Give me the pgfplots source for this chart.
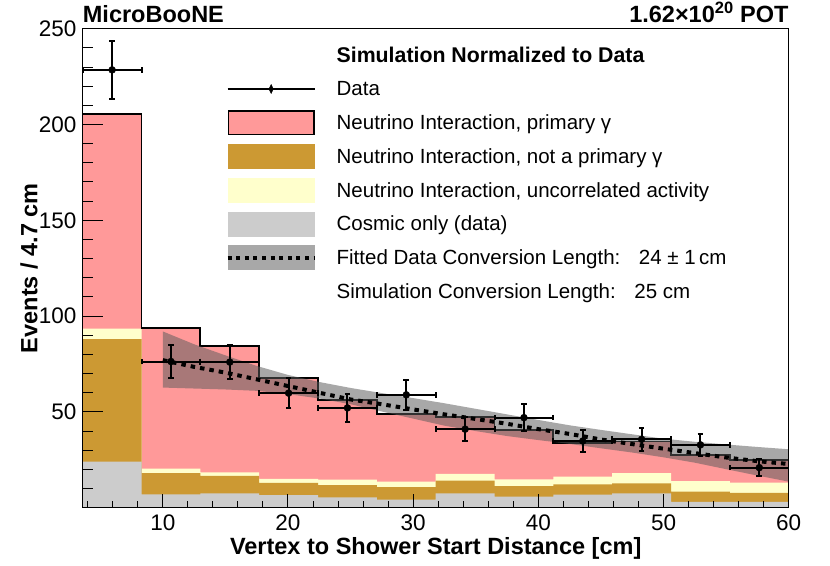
\documentclass[border=0pt]{standalone}
\usepackage{pgfplots}
\pgfplotsset{compat=1.18}
\usepackage{pgfplotstable}
\usepackage{fontspec}
\setmainfont{Liberation Sans}
\definecolor{cpink}{HTML}{FF9999}
\definecolor{cbrown}{HTML}{CC9933}
\definecolor{cyel}{HTML}{FFFFCC}
\definecolor{cgray}{HTML}{CCCCCC}
\definecolor{cband}{HTML}{5B5B5B}

% bin left edges; cumulative stack tops
\pgfplotstableread{
x     cos   br    ye    tot
3.6   24.0  88.0  93.4  205.5
8.3   7.0   18.0  20.4  93.7
13.0  7.5   16.6  18.5  84.5
17.7  6.5   12.9  15.0  67.6
22.4  5.4   11.8  14.6  56.3
27.1  4.2   10.8  13.6  49.0
31.8  7.5   14.1  17.6  47.2
36.5  5.8   11.3  14.8  40.5
41.2  6.8   12.2  16.2  33.7
45.9  7.5   12.7  18.0  34.5
50.6  3.1   8.4   13.9  27.5
55.3  3.1   7.8   13.1  24.9
60.0  3.1   7.8   13.1  24.9
}\hist

\pgfplotstableread{
x      y      ex    ey
5.95   228.5  2.35  15.1
10.65  76.3   2.35  8.7
15.35  76.0   2.35  8.7
20.05  59.8   2.35  7.7
24.75  52.1   2.35  7.2
29.45  58.9   2.35  7.7
34.15  41.0   2.35  6.4
38.85  47.0   2.35  6.9
43.55  34.8   2.35  5.9
48.25  35.7   2.35  6.0
52.95  32.8   2.35  5.7
57.65  20.9   2.35  4.6
}\data

\pgfplotstableread{
x     fit
10.0  77.0
12.5  73.5
15.0  70.5
17.5  67.0
20.0  63.5
22.5  60.0
25.0  56.5
27.5  54.0
30.0  51.3
32.5  48.7
35.0  46.3
37.5  43.8
40.0  41.0
42.5  38.5
45.0  35.6
47.5  33.2
50.0  30.8
52.5  28.5
55.0  26.2
57.5  24.3
60.0  22.8
}\fit

% fit uncertainty band: upper edge left to right, lower edge right to left
\pgfplotstableread{
x     y
10.0  92.0
12.5  85.3
15.0  79.5
17.5  74.0
20.0  69.3
22.5  65.6
25.0  62.5
27.5  59.8
30.0  57.2
32.5  54.5
35.0  51.6
37.5  48.7
40.0  45.8
42.5  43.0
45.0  40.6
47.5  38.3
50.0  36.0
52.5  34.4
55.0  33.0
57.5  31.7
60.0  30.5
60.0  13.6
57.5  16.8
55.0  20.1
52.5  23.5
50.0  26.3
47.5  28.8
45.0  31.0
42.5  33.3
40.0  35.3
37.5  37.4
35.0  40.0
32.5  42.8
30.0  46.5
27.5  50.2
25.0  54.0
22.5  57.0
20.0  59.3
17.5  61.0
15.0  61.7
12.5  62.2
10.0  62.7
}\band

\begin{document}
\begin{tikzpicture}
\begin{axis}[
  name=ax,
  at={(82.7pt,57.3pt)}, anchor=south west,
  scale only axis, width=706pt, height=479pt,
  xmin=3.6, xmax=60, ymin=0, ymax=250,
  xtick={10,20,...,60}, ytick={50,100,...,250},
  minor xtick={4,6,...,58}, minor ytick={10,20,...,240},
  tick pos=left, tick align=inside,
  axis on top,
  axis line style={line width=1pt},
  every tick/.style={black, line width=1pt},
  xtick style={/pgfplots/major tick length=14pt, /pgfplots/minor tick length=7pt},
  ytick style={/pgfplots/major tick length=20pt, /pgfplots/minor tick length=10pt},
  /pgf/number format/assume math mode=true,
  xticklabel style={font=\fontsize{22.5}{26}\selectfont, inner sep=0pt, yshift=-7pt},
  yticklabel style={font=\fontsize{22.5}{26}\selectfont, inner sep=0pt, xshift=-6pt},
  legend style={at={(rel axis cs:0.2025,0.9708)}, anchor=north west, draw=none, fill=none,
    inner sep=0pt, outer sep=0pt, row sep=8.8pt, column sep=20pt,
    font=\fontsize{20.5}{24}\selectfont, nodes={inner sep=0pt}, cells={anchor=west}},
]
\addlegendimage{legend image code/.code={\path[draw=none,fill=none] (0pt,-12.5pt) rectangle (87pt,12.5pt);}}
\addlegendentry{\fontsize{21.3}{24}\selectfont\bfseries Simulation Normalized to Data}
\addlegendimage{legend image code/.code={\path[draw=none,fill=none] (0pt,-12.5pt) rectangle (87pt,12.5pt);
  \draw[black,line width=1.6pt] (0pt,0pt)--(87pt,0pt);
  \fill[black] (43.5pt,-4.5pt)--(45.7pt,0pt)--(43.5pt,4.5pt)--(41.3pt,0pt)--cycle;}}
\addlegendentry{Data}
\addlegendimage{legend image code/.code={\path[draw=none,fill=none] (0pt,-12.5pt) rectangle (87pt,12.5pt);
  \draw[black,line width=1.6pt,fill=cpink] (0.8pt,-11.7pt) rectangle (86.2pt,11.7pt);}}
\addlegendentry{Neutrino Interaction, primary γ}
\addlegendimage{legend image code/.code={\fill[cbrown,draw=none] (0pt,-12.5pt) rectangle (87pt,12.5pt);}}
\addlegendentry{Neutrino Interaction, not a primary γ}
\addlegendimage{legend image code/.code={\fill[cyel,draw=none] (0pt,-12.5pt) rectangle (87pt,12.5pt);}}
\addlegendentry{Neutrino Interaction, uncorrelated activity}
\addlegendimage{legend image code/.code={\fill[cgray,draw=none] (0pt,-12.5pt) rectangle (87pt,12.5pt);}}
\addlegendentry{Cosmic only (data)}
\addlegendimage{legend image code/.code={\fill[cband,opacity=0.53,draw=none] (0pt,-12.5pt) rectangle (87pt,12.5pt);
  \draw[black,line width=4pt,dash pattern=on 4pt off 4.6pt] (0pt,0pt)--(87pt,0pt);}}
\addlegendentry{Fitted Data Conversion Length:\hspace{11pt} 24 ± 1\,cm}
\addlegendimage{legend image code/.code={\path[draw=none,fill=none] (0pt,-12.5pt) rectangle (87pt,12.5pt);}}
\addlegendentry{Simulation Conversion Length:\hspace{11pt} 25 cm}

\addplot[forget plot, const plot, fill=cpink, draw=none] table[x=x,y=tot]{\hist} \closedcycle;
\addplot[forget plot, const plot, fill=cyel, draw=none] table[x=x,y=ye]{\hist} \closedcycle;
\addplot[forget plot, const plot, fill=cbrown, draw=none] table[x=x,y=br]{\hist} \closedcycle;
\addplot[forget plot, const plot, fill=cgray, draw=none] table[x=x,y=cos]{\hist} \closedcycle;
\addplot[forget plot, const plot, black, line width=1.8pt] table[x=x,y=tot]{\hist};

\addplot[forget plot, fill=cband, fill opacity=0.53, draw=none] table[x=x,y=y]{\band} -- cycle;
\addplot[forget plot, black, line width=4pt, dash pattern=on 4.5pt off 5pt] table[x=x,y=fit]{\fit};

\addplot[forget plot, black, only marks, mark=*, mark size=3.5pt, mark options={fill=black},
  /pgfplots/error bars/x dir=both, /pgfplots/error bars/x explicit,
  /pgfplots/error bars/y dir=both, /pgfplots/error bars/y explicit,
  /pgfplots/error bars/error bar style={black, line width=2pt, solid},
  /pgfplots/error bars/error mark=-,
  /pgfplots/error bars/error mark options={rotate=90, black, line width=2pt, mark size=2.8pt}]
  table[x=x, y=y, x error=ex, y error=ey]{\data};
\end{axis}
\node[anchor=base west, inner sep=0pt, font=\fontsize{23.5}{28}\selectfont\bfseries] at ([yshift=5.8pt]ax.north west) {MicroBooNE};
\node[anchor=base east, inner sep=0pt, font=\fontsize{23.5}{28}\selectfont\bfseries] at ([yshift=5.8pt]ax.north east) {1.62×10\textsuperscript{20} POT};
\node[anchor=base, inner sep=0pt, font=\fontsize{23.5}{28}\selectfont\bfseries] at ([yshift=-46.3pt]ax.south) {Vertex to Shower Start Distance [cm]};
\node[anchor=base, rotate=90, inner sep=0pt, font=\fontsize{23.5}{28}\selectfont\bfseries] at ([xshift=-45.4pt]ax.west) {Events / 4.7 cm};
\pgfresetboundingbox
\path[use as bounding box] (0,0) rectangle (830pt,565pt);
\end{tikzpicture}
\end{document}
